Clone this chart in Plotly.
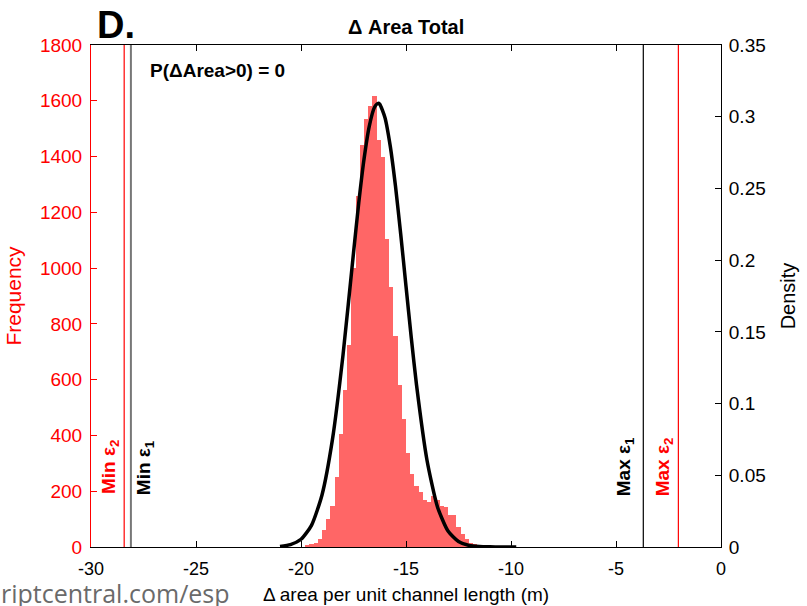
import plotly.graph_objects as go

# ---------------- data ----------------
bin_width = 0.2
bin_centers = [-19.7 + 0.2 * k for k in range(42)]
bin_counts = [4, 10, 15, 28, 62, 99, 147, 251, 405, 564,
              724, 1000, 1260, 1440, 1534, 1583, 1618, 1460, 1398, 1105,
              933, 755, 582, 458, 338, 262, 220, 196, 169, 162,
              183, 169, 147, 142, 115, 115, 73, 47, 28, 15,
              10, 4]

curve_x = [-21.0, -20.5, -20.0, -19.5, -19.0, -18.5, -18.0, -17.5, -17.25, -17.0,
           -16.75, -16.5, -16.33, -16.25, -16.0, -15.75, -15.5, -15.25, -15.0, -14.75,
           -14.5, -14.0, -13.5, -13.0, -12.5, -12.0, -11.5, -11.0, -10.5, -10.0, -9.75]
curve_density = [0.0004, 0.0017, 0.0054, 0.0151, 0.0363, 0.0752, 0.1338, 0.2050, 0.2399, 0.2703,
                 0.2933, 0.3066, 0.3093, 0.3087, 0.2993, 0.2795, 0.2515, 0.2179, 0.1818, 0.1461,
                 0.1131, 0.0605, 0.0279, 0.0111, 0.0038, 0.0011, 0.0003, 0.0001, 0.0, 0.0, 0.0]

min_eps2, min_eps1 = -28.42, -28.10
max_eps1, max_eps2 = -3.70, -2.03

x_ticks = [-30, -25, -20, -15, -10, -5, 0]
freq_ticks = list(range(0, 1801, 200))
dens_ticks = [0, 0.05, 0.1, 0.15, 0.2, 0.25, 0.3, 0.35]

FONT = "Liberation Sans, Arial, sans-serif"
RED = "#ff0000"

fig = go.Figure()
fig.add_trace(go.Bar(x=bin_centers, y=bin_counts, width=bin_width,
                     marker=dict(color="rgb(255,102,102)", line=dict(width=0)),
                     yaxis="y", showlegend=False))
fig.add_trace(go.Scatter(x=curve_x, y=curve_density, mode="lines",
                         line=dict(color="black", width=3.5, shape="spline", smoothing=0.6),
                         yaxis="y2", showlegend=False))

for xv, col, w in [(min_eps2, RED, 1.2), (min_eps1, "#777777", 2), (max_eps1, "black", 1.2), (max_eps2, RED, 1.2)]:
    fig.add_shape(type="line", x0=xv, x1=xv, y0=0, y1=1, xref="x", yref="paper",
                  line=dict(color=col, width=w))

labels = [(-29.1, "Min ε<sub>2</sub>", RED), (-27.43, "Min ε<sub>1</sub>", "black"),
          (-4.57, "Max ε<sub>1</sub>", "black"), (-2.71, "Max ε<sub>2</sub>", RED)]
for xv, txt, col in labels:
    fig.add_annotation(x=xv, y=0.159, xref="x", yref="paper", text=f"<b>{txt}</b>",
                       textangle=-90, showarrow=False, font=dict(size=19, color=col, family=FONT),
                       xanchor="center", yanchor="middle")

fig.add_annotation(x=0.0397, y=1.04, xref="paper", yref="paper", text="<b>D.</b>", showarrow=False,
                   font=dict(size=38, color="black", family=FONT), xanchor="center", yanchor="middle")
fig.add_annotation(x=0.5, y=1.036, xref="paper", yref="paper", text="<b>Δ Area Total</b>", showarrow=False,
                   font=dict(size=20, color="black", family=FONT), xanchor="center", yanchor="middle")
fig.add_annotation(x=0.0905, y=0.950, xref="paper", yref="paper", text="<b>P(ΔArea>0) = 0</b>",
                   showarrow=False, font=dict(size=19, color="black", family=FONT),
                   xanchor="left", yanchor="middle")
fig.add_annotation(x=0.2238, y=-0.0916, xref="paper", yref="paper", text="riptcentral.com/esp",
                   showarrow=False, font=dict(size=25, color="#6a6a6a", family="Open Sans, sans-serif"),
                   xanchor="right", yanchor="middle")

fig.update_layout(
    width=807, height=606,
    margin=dict(l=91, r=86, t=45, b=59),
    paper_bgcolor="white", plot_bgcolor="white",
    bargap=0,
    font=dict(family=FONT, size=16, color="black"),
    xaxis=dict(range=[-30, 0], tickvals=x_ticks, ticktext=[str(v) for v in x_ticks],
               ticks="inside", ticklen=6, tickcolor="black", showline=True, linecolor="black",
               linewidth=1, mirror="ticks", showgrid=False, zeroline=False, automargin=False,
               tickfont=dict(size=18, color="black"), ticklabelstandoff=5,
               title=dict(text="Δ area per unit channel length (m)", font=dict(size=19), standoff=10)),
    yaxis=dict(range=[0, 1800], tickvals=freq_ticks, ticks="inside", ticklen=6, tickcolor=RED,
               showline=True, linecolor=RED, linewidth=1, showgrid=False, zeroline=False,
               automargin=False,
               tickfont=dict(size=19, color=RED), ticklabelstandoff=4,
               title=dict(text="Frequency", font=dict(size=21, color=RED), standoff=12)),
    yaxis2=dict(range=[0, 0.35], tickvals=dens_ticks,
                ticktext=["0", "0.05", "0.1", "0.15", "0.2", "0.25", "0.3", "0.35"],
                overlaying="y", side="right", ticks="inside", ticklen=6, tickcolor="black",
                showline=True, linecolor="black", linewidth=1, showgrid=False, zeroline=False,
                automargin=False,
                tickfont=dict(size=19, color="black"), ticklabelstandoff=3,
                title=dict(text="Density", font=dict(size=20, color="black"), standoff=16)),
)

fig.write_html("out.html")
